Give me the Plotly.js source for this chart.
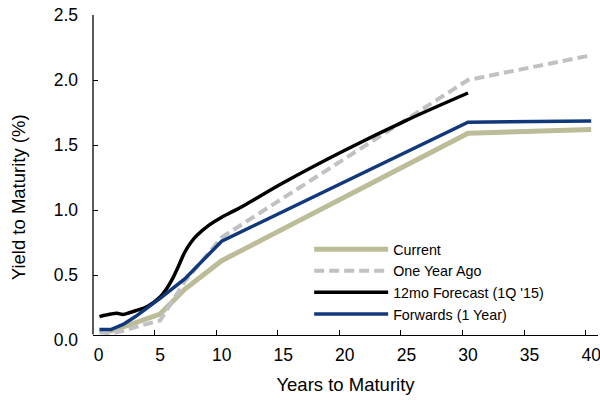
<!DOCTYPE html>
<html>
<head>
<meta charset="utf-8">
<script src="https://cdn.plot.ly/plotly-3.0.1.min.js"></script>
<style>
  html, body { margin: 0; padding: 0; background: #fff; }
  #chart { width: 600px; height: 400px; }
</style>
</head>
<body>
<div id="chart"></div>
<script>
// Yield curves (years to maturity vs. yield, %)
const seriesNames = ['Current', 'One Year Ago', "12mo Forecast (1Q '15)", 'Forwards (1 Year)'];

const currentYears = [0.08, 1, 2, 3, 5, 7, 10, 30, 40];
const currentYield = [0.07, 0.07, 0.10, 0.135, 0.20, 0.39, 0.61, 1.59, 1.62];

const yearAgoYears = [0.08, 1, 2, 3, 5, 7, 10, 30, 40];
const yearAgoYield = [0.06, 0.05, 0.07, 0.10, 0.15, 0.45, 0.79, 2.00, 2.19];

const forecastYears = [0.08, 0.5, 1, 1.5, 2, 2.5, 3, 4, 5, 5.5, 6, 6.5, 7, 7.5, 8, 9, 10, 11, 12, 15, 20, 25, 30];
const forecastYield = [0.18, 0.19, 0.20, 0.205, 0.197, 0.21, 0.225, 0.26, 0.33, 0.39, 0.47, 0.57, 0.675, 0.75, 0.805, 0.885, 0.945, 0.993, 1.045, 1.21, 1.46, 1.69, 1.90];

const forwardsYears = [0.08, 1, 2, 3, 5, 7, 10, 30, 40];
const forwardsYield = [0.08, 0.08, 0.12, 0.18, 0.32, 0.47, 0.76, 1.675, 1.685];

const xTickVals = [0, 5, 10, 15, 20, 25, 30, 35, 40];
const yTickVals = [0, 0.5, 1.0, 1.5, 2.0, 2.5];

const FONT = 'Liberation Sans, Arial, sans-serif';

const traces = [
  {
    x: currentYears, y: currentYield, name: seriesNames[0],
    mode: 'lines', line: { color: '#BDBC98', width: 5 }
  },
  {
    x: yearAgoYears, y: yearAgoYield, name: seriesNames[1],
    mode: 'lines', line: { color: '#C0C1C3', width: 4, dash: '10px,5px' }
  },
  {
    x: forecastYears, y: forecastYield, name: seriesNames[2],
    mode: 'lines', line: { color: '#000000', width: 3.5, shape: 'spline', smoothing: 1 }
  },
  {
    x: forwardsYears, y: forwardsYield, name: seriesNames[3],
    mode: 'lines', line: { color: '#11387A', width: 3.5 }
  },
  // empty trace that brings the tick-mark axis into the plot
  { x: [], y: [], xaxis: 'x2', showlegend: false, hoverinfo: 'skip' }
];

const axisPos = 0.0169;

const layout = {
  width: 600,
  height: 400,
  paper_bgcolor: '#ffffff',
  plot_bgcolor: '#ffffff',
  margin: { l: 93.3, r: 2.3, t: 15, b: 59.5 },
  font: { family: FONT, color: '#000000' },
  showlegend: true,
  legend: {
    x: 0.428, y: 0.328, xanchor: 'left', yanchor: 'top',
    bgcolor: 'rgba(0,0,0,0)',
    font: { family: FONT, size: 14.3, color: '#000000' },
    itemwidth: 74,
    tracegroupgap: 0
  },
  xaxis: {
    range: [-0.447, 40.553],
    anchor: 'free', position: axisPos,
    tickvals: xTickVals,
    ticktext: xTickVals.map(String),
    showgrid: false, zeroline: false, showline: false,
    ticks: '',
    ticklabelstandoff: 8,
    ticklabeloverflow: 'allow',
    tickfont: { family: FONT, size: 17.5, color: '#000000' },
    title: { text: 'Years to Maturity', font: { family: FONT, size: 18.5, color: '#000000' }, standoff: 14 }
  },
  xaxis2: {
    range: [0, 41],
    overlaying: 'x',
    anchor: 'free', position: axisPos,
    tickvals: xTickVals,
    showticklabels: false,
    showgrid: false, zeroline: false,
    showline: true, linecolor: '#000000', linewidth: 1.3,
    ticks: 'inside', ticklen: 5, tickwidth: 1, tickcolor: '#000000'
  },
  yaxis: {
    range: [0, 2.5],
    tickvals: yTickVals,
    ticktext: yTickVals.map(v => v.toFixed(1)),
    showgrid: false, zeroline: false, showline: false,
    ticks: 'inside', ticklen: 5, tickwidth: 1, tickcolor: '#000000',
    ticklabelstandoff: 14,
    tickfont: { family: FONT, size: 17.5, color: '#000000' }
  },
  shapes: [
    {
      type: 'line', xref: 'paper', yref: 'paper',
      x0: 0, x1: 0, y0: axisPos, y1: 1,
      line: { color: '#000000', width: 1.3 }
    }
  ],
  annotations: [
    {
      text: 'Yield to Maturity (%)',
      xref: 'paper', yref: 'paper',
      x: -0.148, y: 0.44,
      xanchor: 'center', yanchor: 'middle',
      textangle: -90, showarrow: false,
      font: { family: FONT, size: 18.5, color: '#000000' }
    }
  ]
};

Plotly.newPlot('chart', traces, layout, { displayModeBar: false, staticPlot: true });
</script>
</body>
</html>
